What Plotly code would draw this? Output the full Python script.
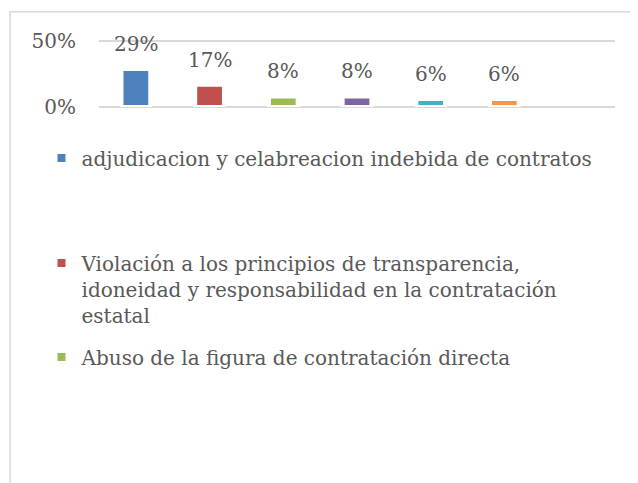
import plotly.graph_objects as go

# categorías (solo las tres primeras se ven en la leyenda recortada)
categorias = [
    'adjudicacion y celabreacion indebida de contratos',
    'Violación a los principios de transparencia,<br>idoneidad y responsabilidad en la contratación<br>estatal',
    'Abuso de la figura de contratación directa',
    'Categoría 4',
    'Categoría 5',
    'Categoría 6',
    'Categoría 7',
]
valores = [0.29, 0.17, 0.08, 0.08, 0.06, 0.06, None]
etiquetas = ['29%', '17%', '8%', '8%', '6%', '6%', '']
colores = ['#4f81bd', '#c0504d', '#9bbb59', '#8064a2', '#4bacc6', '#f79646', '#4f81bd']
y_ticks = [0, 0.5]
y_tick_text = ['0%', '50%']

FUENTE = 'DejaVu Serif'
GRIS_TEXTO = '#595959'
GRIS_LINEA = '#d9d9d9'

# la página tiene 8px de margen; el lienzo ocupa el resto de la ventana
W, H = 630, 475

leyendas = ['legend', 'legend2', 'legend3']

fig = go.Figure()
for i, (cat, val, col) in enumerate(zip(categorias, valores, colores)):
    if val is None:
        continue
    fig.add_trace(go.Bar(
        x=[cat],
        y=[val],
        name=cat,
        marker_color=col,
        marker_line=dict(color='white', width=4),
        width=0.39,
        showlegend=i < 3,
        legend=leyendas[i] if i < 3 else None,
        hovertemplate='%{y:.0%}<extra></extra>',
    ))

# etiquetas de datos encima de cada barra
for cat, val, txt in zip(categorias, valores, etiquetas):
    if val is None:
        continue
    fig.add_annotation(
        x=cat, y=val, text=txt, showarrow=False,
        yanchor='bottom', yshift=11,
        font=dict(family=FUENTE, size=20, color=GRIS_TEXTO),
    )

# borde del área del gráfico
fig.add_shape(
    type='rect', xref='paper', yref='paper',
    x0=-0.1725, x1=2, y0=-10, y1=1.42,
    line=dict(color=GRIS_LINEA, width=1.5), layer='below',
)

leg_font = dict(family=FUENTE, size=20, color=GRIS_TEXTO)
leg_base = dict(xref='container', yref='container', x=33.5 / W, xanchor='left',
                yanchor='middle', valign='top', font=leg_font,
                bgcolor='rgba(0,0,0,0)', borderwidth=0)

fig.update_layout(
    width=W,
    height=H,
    barmode='overlay',
    paper_bgcolor='white',
    plot_bgcolor='white',
    margin=dict(l=91, r=23, t=32, b=376, autoexpand=False),
    font=dict(family=FUENTE, color=GRIS_TEXTO),
    xaxis=dict(
        categoryorder='array', categoryarray=categorias,
        range=[-0.5, len(categorias) - 0.5],
        showticklabels=False, showgrid=False, showline=False,
        zeroline=False, ticks='',
    ),
    yaxis=dict(
        range=[0, 0.51], tickvals=y_ticks, ticktext=y_tick_text,
        showgrid=True, gridcolor=GRIS_LINEA, gridwidth=2,
        zeroline=True, zerolinecolor=GRIS_LINEA, zerolinewidth=2,
        showline=False, ticks='', ticklabelstandoff=22,
        tickfont=dict(family=FUENTE, size=20, color=GRIS_TEXTO),
    ),
    legend=dict(leg_base, y=1 - 150 / H),
    legend2=dict(leg_base, y=1 - 281 / H),
    legend3=dict(leg_base, y=1 - 349 / H),
)

fig.write_html('out.html')
